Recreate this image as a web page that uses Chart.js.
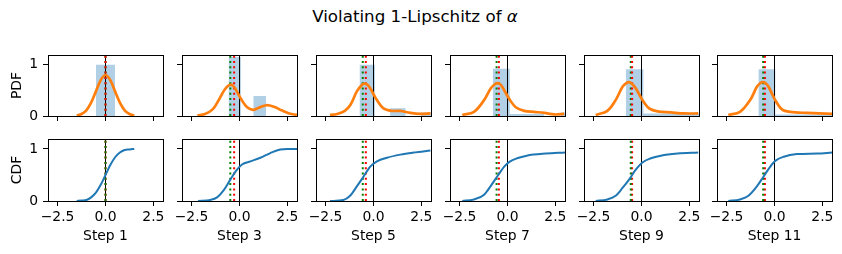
<!DOCTYPE html>
<html>
<head>
<meta charset="utf-8">
<script src="https://cdn.jsdelivr.net/npm/chart.js@4.4.3/dist/chart.umd.min.js"></script>
<style>
  html, body { margin: 0; padding: 0; background: #fff; }
  #fig { position: relative; width: 842px; height: 254px; overflow: hidden; font-family: "DejaVu Sans"; }
  #fig canvas { position: absolute; }
  #suptitle { position: absolute; left: 0; top: 8px; width: 830px; text-align: center;
              font-size: 16.7px; line-height: 16.7px; color: #000; white-space: nowrap; }
</style>
</head>
<body>
<div id="fig">
  <div id="suptitle">Violating 1-Lipschitz of <i>α</i></div>
</div>
<script>
// --- data ------------------------------------------------------------------
const steps = ["Step 1", "Step 3", "Step 5", "Step 7", "Step 9", "Step 11"];
const xTicks = [-2.5, 0, 2.5];
const yTicks = [0, 1];

// histogram (density) per step: bin edges + bar heights
const histEdges = [
  [-0.5, 0.5],
  [-0.57, 0.07, 0.73, 1.39],
  [-0.73, 0.07, 0.87, 1.67, 2.47, 3.27],
  [-0.77, 0.12, 1.01, 1.90, 2.79, 3.68],
  [-0.82, 0.10, 1.02, 1.94, 2.86, 3.78],
  [-0.84, 0.04, 0.92, 1.80, 2.68, 3.56],
];
const histHeights = [
  [1.0],
  [1.15, 0, 0.39],
  [1.0, 0, 0.15, 0, 0.07],
  [0.92, 0.04, 0.04, 0, 0.07],
  [0.91, 0.05, 0.05, 0.04, 0.05],
  [0.91, 0.03, 0.03, 0.03, 0.03],
];

// KDE curves (orange)
const kdeX = [
  [-1.5, -1.25, -1, -0.75, -0.5, -0.25, 0, 0.25, 0.5, 0.75, 1, 1.25, 1.5],
  [-2.2, -1.8, -1.4, -1.1, -0.8, -0.62, -0.48, -0.34, -0.2, 0.1, 0.4, 0.7, 1.0, 1.4, 1.8, 2.2, 2.6, 3.0],
  [-2.27, -1.9, -1.5, -1.2, -0.87, -0.62, -0.47, -0.32, -0.17, 0.18, 0.52, 0.96, 1.40, 1.92, 2.45, 2.97],
  [-2.36, -1.75, -1.22, -0.87, -0.66, -0.52, -0.38, -0.26, 0.08, 0.43, 0.87, 1.39, 1.92, 2.44, 2.96],
  [-2.39, -1.78, -1.35, -0.99, -0.79, -0.65, -0.50, -0.30, 0.05, 0.40, 0.84, 1.53, 2.23, 2.96],
  [-2.41, -1.80, -1.27, -0.92, -0.75, -0.61, -0.46, -0.31, 0.04, 0.39, 0.82, 1.70, 3.0],
];
const kdeY = [
  [0.01, 0.04, 0.11, 0.26, 0.48, 0.70, 0.80, 0.70, 0.48, 0.26, 0.11, 0.04, 0.01],
  [0.01, 0.04, 0.13, 0.30, 0.50, 0.58, 0.61, 0.59, 0.52, 0.32, 0.17, 0.12, 0.16, 0.21, 0.18, 0.11, 0.05, 0.02],
  [0.02, 0.04, 0.10, 0.22, 0.48, 0.60, 0.63, 0.61, 0.54, 0.31, 0.15, 0.10, 0.10, 0.06, 0.04, 0.05],
  [0.02, 0.08, 0.31, 0.54, 0.62, 0.64, 0.62, 0.56, 0.34, 0.17, 0.10, 0.08, 0.06, 0.03, 0.04],
  [0.02, 0.10, 0.31, 0.57, 0.64, 0.66, 0.63, 0.54, 0.31, 0.15, 0.09, 0.07, 0.05, 0.05],
  [0.02, 0.08, 0.31, 0.57, 0.64, 0.66, 0.64, 0.57, 0.31, 0.13, 0.08, 0.06, 0.04],
];

// CDF curves (blue)
const cdfX = [
  [-1.5, -1.25, -1, -0.75, -0.5, -0.25, 0, 0.25, 0.5, 0.75, 1, 1.25, 1.5],
  [-2.17, -1.52, -1.17, -0.82, -0.48, -0.13, 0.13, 0.57, 1.09, 1.61, 2.13, 2.5, 3.0],
  [-2.27, -1.57, -1.22, -0.87, -0.52, -0.17, 0.18, 0.70, 1.40, 2.09, 2.97],
  [-2.36, -1.75, -1.22, -0.87, -0.52, -0.17, 0.1, 0.5, 1.0, 2.0, 3.0],
  [-2.39, -1.78, -1.35, -0.99, -0.65, -0.30, 0.05, 0.49, 1.01, 1.88, 2.96],
  [-2.41, -1.80, -1.36, -0.92, -0.57, -0.22, 0.04, 0.48, 1.17, 2.22, 3.0],
];
const cdfY = [
  [0.0, 0.01, 0.02, 0.07, 0.16, 0.31, 0.5, 0.69, 0.84, 0.93, 0.98, 0.99, 1.0],
  [0, 0.02, 0.07, 0.21, 0.41, 0.60, 0.70, 0.76, 0.83, 0.92, 0.99, 1.0, 1.0],
  [0, 0.02, 0.10, 0.28, 0.47, 0.66, 0.76, 0.83, 0.89, 0.93, 0.97],
  [0, 0.03, 0.12, 0.29, 0.48, 0.66, 0.75, 0.82, 0.87, 0.91, 0.93],
  [0, 0.03, 0.10, 0.25, 0.41, 0.60, 0.74, 0.82, 0.87, 0.91, 0.93],
  [0, 0.03, 0.10, 0.28, 0.47, 0.66, 0.77, 0.85, 0.90, 0.91, 0.93],
];

// vertical markers
const greenX = [0, -0.48, -0.56, -0.57, -0.56, -0.59];
const redX = [0, -0.28, -0.40, -0.45, -0.49, -0.50];
const zeroX = 0;

// --- layout ----------------------------------------------------------------
const plotLeft = [48, 182, 316, 450, 584, 717];
const plotTop = [55, 139];
const plotH = [61, 62];
const plotW = 115;
const yMax = 1.19;
const font = { family: "DejaVu Sans", size: 13.9 };
const fig = document.getElementById("fig");

const pts = (xs, ys) => xs.map((x, i) => ({ x, y: ys[i] }));
const vline = (x) => [{ x, y: 0 }, { x, y: yMax }];
const histPts = (edges, h) => edges.map((e, i) => ({ x: e, y: i < h.length ? h[i] : 0 }));
const fmtX = (v) => v.toFixed(1).replace("-", "\u2212");

// matplotlib-style box round the axes
const boxPlugin = {
  id: "box",
  afterDatasetsDraw(chart) {
    const { ctx, chartArea: a } = chart;
    ctx.save();
    ctx.strokeStyle = "#000";
    ctx.lineWidth = 1;
    ctx.strokeRect(a.left + 0.5, a.top + 0.5, a.width, a.height);
    ctx.restore();
  },
};

const dotted = (x, color, order) => ({
  data: vline(x), borderColor: color, borderWidth: 2, borderDash: [2, 3.3],
  pointRadius: 0, order, clip: 0,
});
const zeroLine = (order) => ({
  data: vline(zeroX), borderColor: "#000", borderWidth: 1, pointRadius: 0, order, clip: 0,
});

function panel(row, col) {
  const first = col === 0;
  const bottom = row === 1;
  const yw = first ? 48 : 10;
  const xh = bottom ? 254 - (plotTop[1] + plotH[1]) : 8;
  const padTop = 2, padRight = 3;
  const W = yw + plotW + padRight;
  const H = padTop + plotH[row] + xh;

  const cv = document.createElement("canvas");
  cv.width = W; cv.height = H;
  cv.style.left = (plotLeft[col] - yw) + "px";
  cv.style.top = (plotTop[row] - padTop) + "px";
  cv.style.width = W + "px"; cv.style.height = H + "px";
  fig.appendChild(cv);

  let datasets;
  if (!bottom) {
    datasets = [
      { data: pts(kdeX[col], kdeY[col]), borderColor: "#ff7f0e", borderWidth: 2.7,
        pointRadius: 0, tension: 0.35, order: 0, clip: 0 },
      dotted(redX[col], "red", 1),
      dotted(greenX[col], "green", 2),
      zeroLine(3),
      { data: histPts(histEdges[col], histHeights[col]), stepped: true, fill: "origin",
        backgroundColor: "rgba(31,119,180,0.35)", borderColor: "rgba(0,0,0,0)",
        borderWidth: 0, pointRadius: 0, order: 4, clip: 0 },
    ];
  } else {
    datasets = [
      { data: pts(cdfX[col], cdfY[col]), borderColor: "#1f77b4", borderWidth: 2,
        pointRadius: 0, cubicInterpolationMode: "monotone", order: 0, clip: 0 },
      dotted(greenX[col], "green", 1),
      dotted(redX[col], "red", 2),
      zeroLine(3),
    ];
  }

  const grid = { drawOnChartArea: false, drawTicks: true, tickLength: 5, color: "#000", lineWidth: 1 };

  new Chart(cv, {
    type: "line",
    data: { datasets },
    plugins: [boxPlugin],
    options: {
      responsive: false,
      animation: false,
      events: [],
      layout: { padding: { top: padTop, right: padRight, left: 0, bottom: 0 } },
      plugins: { legend: { display: false }, tooltip: { enabled: false } },
      scales: {
        x: {
          type: "linear", min: -3, max: 3,
          afterBuildTicks: (s) => { s.ticks = xTicks.map((v) => ({ value: v })); },
          afterFit: (s) => { s.height = xh; s.paddingLeft = 0; s.paddingRight = 0; },
          grid, border: { display: false },
          ticks: { callback: (v) => (bottom ? fmtX(v) : ""), font, color: "#000",
                   padding: 3, maxRotation: 0, autoSkip: false },
          title: { display: bottom, text: steps[col], font, color: "#000",
                   padding: { top: 0, bottom: 9.5 } },
        },
        y: {
          type: "linear", min: 0, max: yMax,
          afterBuildTicks: (s) => { s.ticks = yTicks.map((v) => ({ value: v })); },
          afterFit: (s) => { s.width = yw; s.paddingTop = 0; s.paddingBottom = 0; },
          grid, border: { display: false },
          ticks: { callback: (v) => (first ? String(v) : ""), font, color: "#000", padding: 5 },
          title: { display: first, text: bottom ? "CDF" : "PDF", font, color: "#000",
                   padding: { top: 9.3, bottom: 0 } },
        },
      },
    },
  });
}

for (let r = 0; r < 2; r++) {
  for (let c = 0; c < 6; c++) panel(r, c);
}
</script>
</body>
</html>
